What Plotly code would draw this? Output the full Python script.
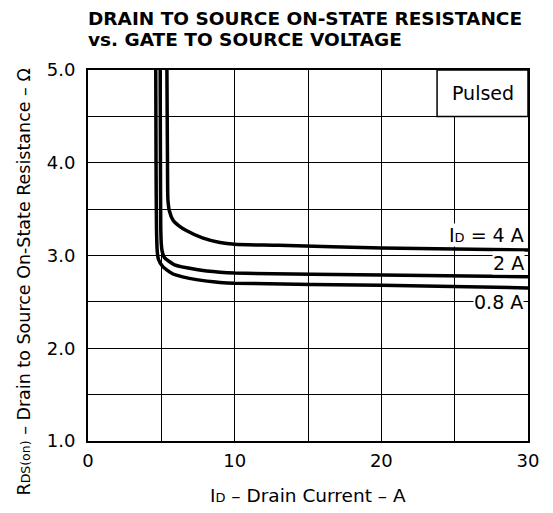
import plotly.graph_objects as go

# ---- data ----
x_4a = [5.38, 5.40, 5.42, 5.45, 5.55, 5.8, 6.2, 6.7, 7.8, 9.0, 10, 13, 20, 30]
y_4a = [5.0, 4.5, 4.0, 3.6, 3.48, 3.38, 3.32, 3.27, 3.19, 3.14, 3.12, 3.11, 3.08, 3.06]

x_2a = [4.92, 4.94, 4.96, 5.0, 5.05, 5.2, 5.9, 7.4, 9.0, 10, 20, 30]
y_2a = [5.0, 4.0, 3.3, 3.12, 3.05, 2.98, 2.90, 2.85, 2.82, 2.81, 2.79, 2.77]

x_08a = [4.62, 4.64, 4.67, 4.72, 4.8, 5.1, 5.8, 6.45, 7.4, 9.0, 10, 20, 30]
y_08a = [5.0, 4.0, 3.3, 3.05, 2.96, 2.88, 2.80, 2.77, 2.74, 2.71, 2.70, 2.68, 2.65]

x_ticks = [0, 5, 10, 15, 20, 25, 30]
x_ticklabels = ["0", "", "10", "", "20", "", "30"]
y_ticks = [1.0, 1.5, 2.0, 2.5, 3.0, 3.5, 4.0, 4.5, 5.0]
y_ticklabels = ["1.0", "", "2.0", "", "3.0", "", "4.0", "", "5.0"]

FONT = "DejaVu Sans, sans-serif"

fig = go.Figure()
for xs, ys in [(x_4a, y_4a), (x_2a, y_2a), (x_08a, y_08a)]:
    fig.add_trace(go.Scatter(x=xs, y=ys, mode="lines",
                             line=dict(color="black", width=3.5, shape="spline", smoothing=0.6),
                             showlegend=False, hoverinfo="skip"))

axis_common = dict(showgrid=True, gridcolor="black", gridwidth=1.2,
                   showline=True, linecolor="black", linewidth=2, mirror=True,
                   zeroline=False, ticks="", tickfont=dict(family=FONT, size=18, color="black"))

fig.update_xaxes(range=[0, 30], tickvals=x_ticks, ticktext=x_ticklabels,
                 ticklabelstandoff=2, **axis_common)
fig.update_yaxes(range=[1, 5], tickvals=y_ticks, ticktext=y_ticklabels,
                 ticklabelstandoff=7, **axis_common)

# Pulsed box
fig.add_shape(type="rect", x0=23.8, x1=30, y0=4.5, y1=5.0, xref="x", yref="y",
              fillcolor="white", line=dict(color="black", width=1.5), layer="above")
fig.add_annotation(x=26.9, y=4.75, xref="x", yref="y", text="Pulsed", showarrow=False,
                   font=dict(family=FONT, size=19, color="black"))

# curve labels
lab_font = dict(family=FONT, size=19, color="black")
fig.add_annotation(x=29.8, y=3.22, xref="x", yref="y", xanchor="right", showarrow=False,
                   text="I<span style='font-size:13px'>D</span> = 4 A", font=lab_font,
                   bgcolor="white", borderpad=0)
fig.add_annotation(x=29.8, y=2.92, xref="x", yref="y", xanchor="right", showarrow=False,
                   text="2 A", font=lab_font, bgcolor="white", borderpad=0)
fig.add_annotation(x=29.7, y=2.5, xref="x", yref="y", xanchor="right", showarrow=False,
                   text="0.8 A", font=lab_font, bgcolor="white", borderpad=0)

# titles
title_font = dict(family=FONT, size=18.5, color="black", weight="bold")
fig.add_annotation(x=0, y=1, xref="paper", yref="paper", yanchor="bottom", xanchor="left",
                   yshift=39, xshift=-2,
                   text="DRAIN TO SOURCE ON-STATE RESISTANCE", showarrow=False, font=title_font)
fig.add_annotation(x=0, y=1, xref="paper", yref="paper", yanchor="bottom", xanchor="left",
                   yshift=18, xshift=-2,
                   text="vs. GATE TO SOURCE VOLTAGE", showarrow=False, font=title_font)

fig.add_annotation(x=0.5, y=0, xref="paper", yref="paper", yanchor="top", yshift=-42,
                   text="I<span style='font-size:13px'>D</span> – Drain Current – A",
                   showarrow=False, font=dict(family=FONT, size=18.5, color="black"))
fig.add_annotation(x=0, y=0.5, xref="paper", yref="paper", xanchor="center", xshift=-65,
                   yshift=-27, textangle=-90,
                   text="R<span style='font-size:12.5px'>DS(on)</span> – Drain to Source On-State Resistance – Ω",
                   showarrow=False, font=dict(family=FONT, size=17.5, color="black"))

fig.update_layout(width=545, height=505, margin=dict(l=80, r=25, t=62, b=72),
                  plot_bgcolor="white", paper_bgcolor="white", showlegend=False)

fig.write_html("out.html")
